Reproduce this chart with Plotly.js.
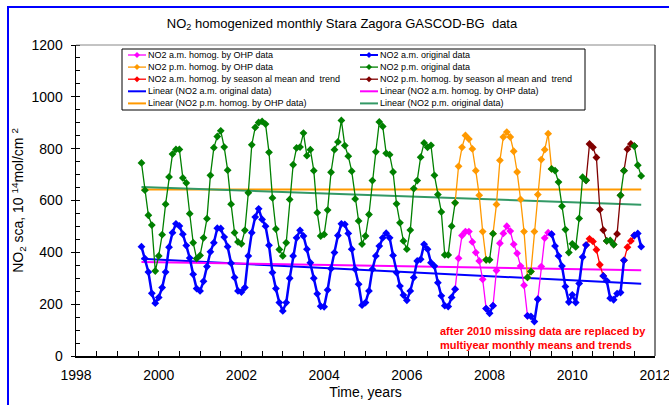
<!DOCTYPE html>
<html><head><meta charset="utf-8">
<script src="https://cdn.plot.ly/plotly-3.0.1.min.js"></script>
<style>html,body{margin:0;padding:0;background:#fff;}#chart{width:669px;height:405px;}</style>
</head><body><div id="chart"></div>
<script>
// ---- data ----
const startYear = 1999, startMonth = 8;   // first monthly value: August 1999
const amValues = [
422,376,324,242,204,226,264,324,420,476,
510,502,470,426,378,315,260,251,288,345,
402,437,493,492,459,422,358,303,251,247,
264,386,476,536,568,527,501,427,322,260,
206,174,206,300,386,456,485,463,412,360,
300,240,192,190,255,337,399,465,510,508,
473,412,335,277,196,206,251,335,386,424,
456,474,456,388,322,270,235,215,251,303,
367,373,431,412,360,347,283,232,194,191,
226,258,377,465,480,480,440,399,367,296,
183,165,194,330,435,473,501,482,431,396,
347,273,155,153,133,219,345,455,476,470,
424,386,347,268,208,236,206,280,382,428,
452,442,410,352,309,290,223,217,241,245,
369,420,444,465,473,422];
const pmValues = [
745,640,543,505,328,386,468,586,691,779,
797,797,687,668,549,437,376,388,456,530,
697,804,847,869,806,717,586,476,440,433,
485,630,815,882,901,905,895,786,610,490,
411,386,437,604,738,803,806,860,773,796,
715,553,463,469,563,709,796,826,909,812,
771,713,606,521,432,463,546,677,788,903,
886,782,777,710,587,514,444,412,486,646,
677,767,822,805,813,697,623,556,390,390,
501,591,732,805,851,837,799,715,620,480,
371,371,472,585,755,845,864,845,790,710,
604,480,303,326,480,623,758,796,858,722,
715,671,578,488,399,433,421,531,690,678,
818,805,766,565,486,444,446,430,471,620,
715,798,818,810,736,695];
// month-index ranges (inclusive) of replaced values
const amOhpRanges  = [[92,99],[103,111],[116,118]];
const pmOhpRanges  = [[92,99],[103,111],[114,118]];
const amSeasRanges = [[130,133],[141,142]];
const pmSeasRanges = [[130,134],[138,138],[141,142]];
// linear trends: value at first and last month
const trendNames = ['Linear (NO2 a.m. original data)','Linear (NO2 a.m. homog. by OHP data)',
                    'Linear (NO2 p.m. homog. by OHP data)','Linear (NO2 p.m. original data)'];
const trendStart = [375, 363, 642, 652];
const trendEnd   = [279, 331, 642, 584];
const seriesNames = ['NO2 a.m. homog. by OHP data','NO2 a.m. original data',
                     'NO2 p.m. homog. by OHP data','NO2 p.m. original data',
                     'NO2 a.m. homog. by season al mean and  trend','NO2 p.m. homog. by season al mean and  trend'];

// ---- build ----
const FONT = 'Liberation Sans, Arial, sans-serif';
const x = amValues.map((_, k) => startYear + (startMonth - 1 + k) / 12);
const inR = (k, rs) => rs.some(([a, b]) => k >= a && k <= b);
function original(vals, sets) { return vals.map((v, k) => sets.some(s => inR(k, s)) ? null : v); }
function replaced(vals, rs) {
  const xs = [], ys = [];
  rs.forEach(([a, b], i) => {
    if (i > 0) { xs.push(x[a - 1]); ys.push(null); }
    for (let k = Math.max(0, a - 1); k <= Math.min(vals.length - 1, b + 1); k++) { xs.push(x[k]); ys.push(vals[k]); }
  });
  return {xs, ys};
}
const C = {blue:'#0000FF', green:'#008000', magenta:'#FF00FF', orange:'#FF9900', red:'#FF0000', brown:'#800000', sea:'#339966'};
const mk = c => ({symbol:'diamond', size:6, color:c, line:{width:0}});
function rep(vals, rs, name, color) {
  const r = replaced(vals, rs);
  return {x:r.xs, y:r.ys, name, type:'scatter', mode:'lines+markers', line:{color, width:1.3}, marker:mk(color), connectgaps:false, showlegend:false};
}
const trendColors = [C.blue, C.magenta, C.orange, C.sea];
const traces = [];
trendNames.forEach((n, i) => traces.push({x:[x[0], x[x.length - 1]], y:[trendStart[i], trendEnd[i]], name:n, type:'scatter', mode:'lines', line:{color:trendColors[i], width:2}, showlegend:false}));
traces.push(rep(amValues, amOhpRanges, seriesNames[0], C.magenta));
traces.push(rep(pmValues, pmOhpRanges, seriesNames[2], C.orange));
traces.push(rep(amValues, amSeasRanges, seriesNames[4], C.red));
traces.push(rep(pmValues, pmSeasRanges, seriesNames[5], C.brown));
traces.push({x, y:original(amValues, [amOhpRanges, amSeasRanges]), name:seriesNames[1], type:'scatter', mode:'lines+markers', line:{color:C.blue, width:2.5}, marker:mk(C.blue), connectgaps:false, showlegend:false});
traces.push({x, y:original(pmValues, [pmOhpRanges, pmSeasRanges]), name:seriesNames[3], type:'scatter', mode:'lines+markers', line:{color:C.green, width:1.3}, marker:mk(C.green), connectgaps:false, showlegend:false});

// ---- layout geometry ----
const W = 669, H = 405, M = {l:76, r:14, t:45, b:49};
const pw = W - M.l - M.r, ph = H - M.t - M.b;
const PX = p => (p - M.l) / pw, PY = p => (H - M.b - p) / ph;

const shapes = [], annotations = [];
// outer blue frame
shapes.push({type:'rect', xref:'paper', yref:'paper', x0:PX(8), x1:PX(672), y0:PY(410), y1:PY(7), line:{color:'#0000FF', width:2}, layer:'below'});
// top border of plot area
shapes.push({type:'line', xref:'paper', yref:'paper', x0:0, x1:1, y0:1, y1:1, line:{color:'#888', width:1}});
// legend box
shapes.push({type:'rect', xref:'paper', yref:'paper', x0:PX(122), x1:PX(585), y0:PY(110), y1:PY(49), line:{color:'#000', width:1}, fillcolor:'#fff', layer:'above'});
const legendItems = [
  [seriesNames[0], C.magenta, 1.3, true], [seriesNames[1], C.blue, 2, true],
  [seriesNames[2], C.orange, 1.3, true], [seriesNames[3], C.green, 1.3, true],
  [seriesNames[4], C.red, 1.3, true], [seriesNames[5], C.brown, 1.3, true],
  [trendNames[0], C.blue, 2, false], [trendNames[1], C.magenta, 2, false],
  [trendNames[2], C.orange, 2, false], [trendNames[3], C.sea, 2, false]];
const colX = [128, 360], rowY0 = 55, rowDY = 12.1, lineLen = 18;
legendItems.forEach(([name, color, w, hasMarker], i) => {
  const cx = colX[i % 2], cy = rowY0 + rowDY * Math.floor(i / 2);
  shapes.push({type:'line', xref:'paper', yref:'paper', x0:PX(cx), x1:PX(cx + lineLen), y0:PY(cy), y1:PY(cy), line:{color, width:w}, layer:'above'});
  if (hasMarker) {
    const mx = cx + lineLen / 2, d = 3;
    shapes.push({type:'path', xref:'paper', yref:'paper', layer:'above', fillcolor:color, line:{width:0},
      path:`M${PX(mx - d)},${PY(cy)} L${PX(mx)},${PY(cy - d)} L${PX(mx + d)},${PY(cy)} L${PX(mx)},${PY(cy + d)} Z`});
  }
  annotations.push({xref:'paper', yref:'paper', x:PX(cx + lineLen), y:PY(cy), xanchor:'left', yanchor:'middle', showarrow:false, text:name, font:{family:FONT, size:9, color:'#000'}});
});
annotations.push({xref:'paper', yref:'paper', x:PX(438), y:PY(337.5), xanchor:'left', yanchor:'middle', align:'left', showarrow:false,
  text:'<b>after 2010 missing data are replaced by<br>multiyear monthly means and trends</b>', font:{family:FONT, size:11, color:'#FF0000'}});

const layout = {
  width:W, height:H, margin:M, paper_bgcolor:'#fff', plot_bgcolor:'#fff', showlegend:false,
  font:{family:FONT, size:14, color:'#000'},
  title:{text:'NO<sub>2</sub> homogenized monthly Stara Zagora GASCOD-BG  data', font:{family:FONT, size:13, color:'#000'},
         xref:'container', x:342 / W, xanchor:'center', yref:'container', y:1 - 23 / H, yanchor:'middle'},
  xaxis:{range:[1998, 2012], tick0:1998, dtick:2, ticks:'inside', ticklen:5, tickcolor:'#000', showgrid:false, zeroline:false,
         showline:true, linecolor:'#000', linewidth:1.5, mirror:false, ticklabelstandoff:6, ticklabeloverflow:'allow',
         minor:{dtick:0.5, ticks:'inside', ticklen:5, tickcolor:'#000', showgrid:false},
         title:{text:'Time, years', font:{family:FONT, size:14}, standoff:5}, tickfont:{family:FONT, size:14}},
  yaxis:{range:[0, 1200], tick0:0, dtick:200, ticks:'outside', ticklen:4, tickcolor:'#000', showgrid:false, zeroline:false,
         showline:true, linecolor:'#000', linewidth:1.5, ticklabelstandoff:5,
         minor:{dtick:50, ticks:'inside', ticklen:4, tickcolor:'#000', showgrid:false},
         title:{text:'NO<sub>2</sub> sca, 10 <sup>14</sup>mol/cm <sup>2</sup>', font:{family:FONT, size:14}, standoff:4}, tickfont:{family:FONT, size:14}},
  shapes, annotations
};
// right border of plot area
layout.shapes.push({type:'line', xref:'paper', yref:'paper', x0:1, x1:1, y0:0, y1:1, line:{color:'#000', width:1}});
Plotly.newPlot('chart', traces, layout, {displayModeBar:false, staticPlot:true});
</script></body></html>
